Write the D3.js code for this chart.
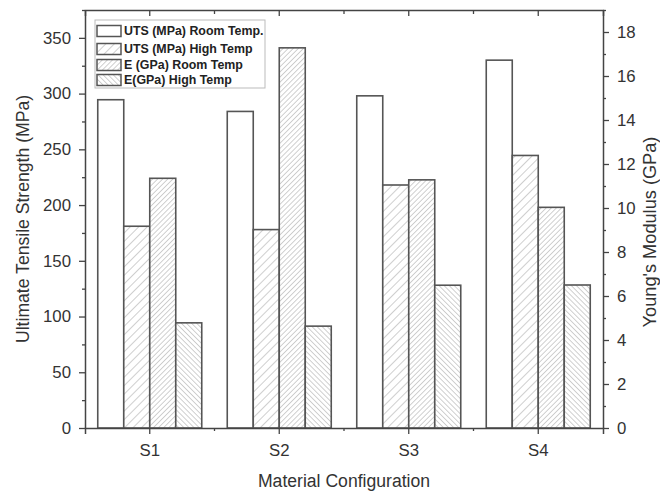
<!DOCTYPE html>
<html>
<head>
<meta charset="utf-8">
<script src="https://cdn.jsdelivr.net/npm/d3@7"></script>
<style>
  body { margin: 0; background: #fff; }
  svg { font-family: "Liberation Sans", Arial, sans-serif; }
</style>
</head>
<body>
<script>
// data
const categories = ["S1", "S2", "S3", "S4"];
const utsRoom = [294.5, 284, 298, 330];
const utsHigh = [181, 178, 218, 244.5];
const eRoom = [11.35, 17.28, 11.28, 10.03];
const eHigh = [4.78, 4.63, 6.49, 6.5];
const seriesNames = ["UTS (MPa) Room Temp.", "UTS (MPa) High Temp", "E (GPa) Room Temp", "E(GPa) High Temp"];
const leftTicks = [0, 50, 100, 150, 200, 250, 300, 350];
const rightTicks = [0, 2, 4, 6, 8, 10, 12, 14, 16, 18];

const width = 660, height = 492;
const margin = {top: 10, right: 57, bottom: 64, left: 85};
const axisColor = "#444", textColor = "#333", barStroke = "#555";

const svg = d3.select("body").append("svg")
  .attr("width", width)
  .attr("height", height);

// hatch patterns
const defs = svg.append("defs");
function hatch(id, spacing, angle) {
  const p = defs.append("pattern")
    .attr("id", id)
    .attr("patternUnits", "userSpaceOnUse")
    .attr("width", spacing).attr("height", spacing)
    .attr("patternTransform", "rotate(" + angle + ")");
  p.append("rect").attr("width", spacing).attr("height", spacing).attr("fill", "#fff");
  p.append("line")
    .attr("x1", 0).attr("y1", 0).attr("x2", 0).attr("y2", spacing)
    .attr("stroke", "#888").attr("stroke-width", 0.8);
}
hatch("hatchSparse", 6, 45);
hatch("hatchDense", 3.6, 45);
hatch("hatchBack", 3.6, -45);

const fills = ["#fff", "url(#hatchSparse)", "url(#hatchDense)", "url(#hatchBack)"];

const x = d3.scaleBand()
  .domain(categories)
  .range([margin.left, width - margin.right])
  .padding(0);

const yLeft = d3.scaleLinear().domain([0, 375]).range([height - margin.bottom, margin.top]);
const yRight = d3.scaleLinear().domain([0, 19]).range([height - margin.bottom, margin.top]);

const barW = 26;
const series = [
  {vals: utsRoom, scale: yLeft},
  {vals: utsHigh, scale: yLeft},
  {vals: eRoom, scale: yRight},
  {vals: eHigh, scale: yRight}
];

const g = svg.append("g");
series.forEach((s, i) => {
  g.selectAll(".bar" + i)
    .data(categories)
    .join("rect")
    .attr("class", "bar" + i)
    .attr("x", (d, j) => x(d) + x.bandwidth() / 2 - 2 * barW + i * barW)
    .attr("y", (d, j) => s.scale(s.vals[j]))
    .attr("width", barW)
    .attr("height", (d, j) => s.scale(0) - s.scale(s.vals[j]))
    .attr("fill", fills[i])
    .attr("stroke", barStroke)
    .attr("stroke-width", 1.6);
});

// axes
const leftAx = svg.append("g")
  .attr("transform", "translate(" + margin.left + ",0)")
  .call(d3.axisLeft(yLeft).tickValues(d3.range(0, 376, 25)).tickSize(0).tickFormat(""));
leftAx.selectAll(".tick line").attr("x2", d => d % 50 === 0 ? -6 : -3);
const leftLab = svg.append("g")
  .attr("transform", "translate(" + margin.left + ",0)")
  .call(d3.axisLeft(yLeft).tickValues(leftTicks).tickSize(0).tickPadding(14));

const rightAx = svg.append("g")
  .attr("transform", "translate(" + (width - margin.right) + ",0)")
  .call(d3.axisRight(yRight).tickValues(d3.range(0, 19.01, 1)).tickSize(0).tickFormat(""));
rightAx.selectAll(".tick line").attr("x2", d => d % 2 === 0 ? 6 : 3);
const rightLab = svg.append("g")
  .attr("transform", "translate(" + (width - margin.right) + ",0)")
  .call(d3.axisRight(yRight).tickValues(rightTicks).tickSize(0).tickPadding(14));

const bottomAx = svg.append("g")
  .attr("transform", "translate(0," + (height - margin.bottom) + ")")
  .call(d3.axisBottom(x).tickSize(6).tickPadding(10));
// minor ticks between categories
bottomAx.selectAll(".minor")
  .data(categories.slice(1))
  .join("line")
  .attr("class", "minor")
  .attr("x1", d => x(d)).attr("x2", d => x(d))
  .attr("y1", 0).attr("y2", 3);

const topAx = svg.append("g")
  .attr("transform", "translate(0," + margin.top + ")")
  .call(d3.axisTop(x).tickSize(-6).tickFormat(""));
topAx.selectAll(".minor")
  .data(categories.slice(1))
  .join("line")
  .attr("class", "minor")
  .attr("x1", d => x(d)).attr("x2", d => x(d))
  .attr("y1", 0).attr("y2", 4);

[leftAx, leftLab, rightAx, rightLab, bottomAx, topAx].forEach(a => {
  a.selectAll("path.domain").attr("stroke", axisColor).attr("stroke-width", 1.5);
  a.selectAll("line").attr("stroke", axisColor).attr("stroke-width", 1.3);
  a.selectAll("text").attr("fill", textColor).style("font-size", "16.8px")
    .style("font-family", "'Liberation Sans', Arial, sans-serif");
});
leftLab.select("path.domain").remove();
rightLab.select("path.domain").remove();

// axis titles
svg.append("text")
  .attr("transform", "translate(29,219) rotate(-90)")
  .attr("text-anchor", "middle")
  .attr("fill", textColor)
  .style("font-size", "17.6px")
  .text("Ultimate Tensile Strength (MPa)");

svg.append("text")
  .attr("transform", "translate(656,232) rotate(-90)")
  .attr("text-anchor", "middle")
  .attr("fill", textColor)
  .style("font-size", "18.2px")
  .text("Young's Modulus (GPa)");

svg.append("text")
  .attr("x", (margin.left + width - margin.right) / 2)
  .attr("y", 487)
  .attr("text-anchor", "middle")
  .attr("fill", textColor)
  .style("font-size", "17.6px")
  .text("Material Configuration");

// legend
const legend = svg.append("g").attr("transform", "translate(95,20)");
legend.append("rect")
  .attr("width", 170).attr("height", 68)
  .attr("fill", "#fff")
  .attr("stroke", "#bbb").attr("stroke-width", 1);
const rowY = [11, 29, 45, 60];
seriesNames.forEach((name, i) => {
  const row = legend.append("g").attr("transform", "translate(2," + (rowY[i] - 5.5) + ")");
  row.append("rect")
    .attr("width", 24).attr("height", 11)
    .attr("fill", fills[i])
    .attr("stroke", barStroke).attr("stroke-width", 1.5);
  row.append("text")
    .attr("x", 27).attr("y", 5.5)
    .attr("dy", "0.35em")
    .attr("fill", "#222")
    .style("font-size", "12.4px")
    .style("font-weight", "bold")
    .text(name);
});
</script>
</body>
</html>
